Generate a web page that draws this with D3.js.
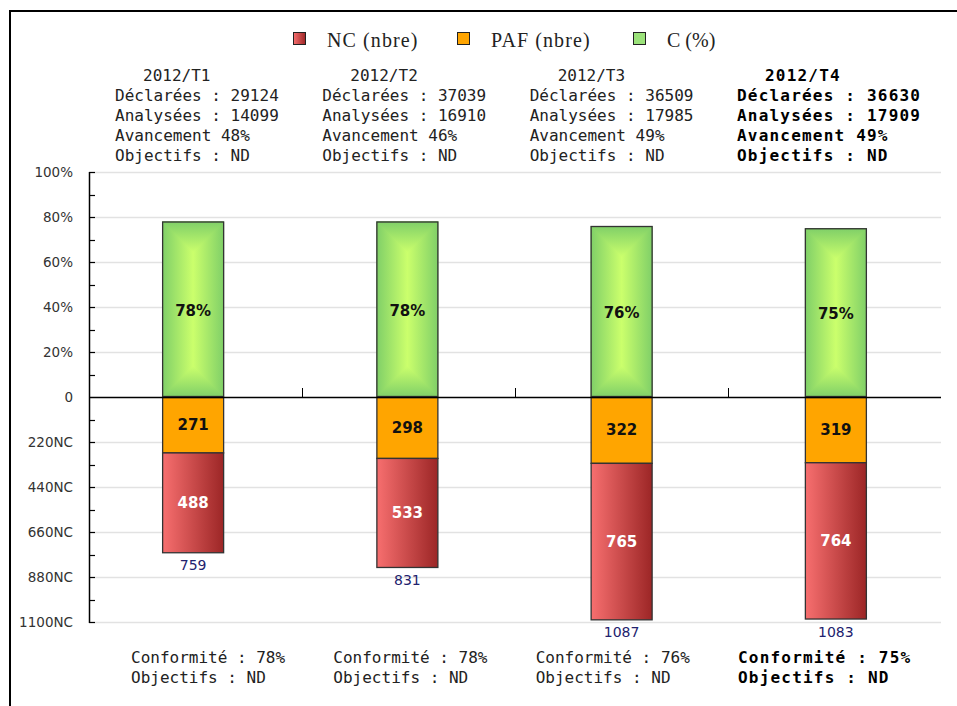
<!DOCTYPE html>
<html>
<head>
<meta charset="utf-8">
<script src="https://cdn.jsdelivr.net/npm/d3@7"></script>
<style>
  html, body { margin: 0; padding: 0; background: #fff; }
  svg { display: block; }
</style>
</head>
<body>
<div id="chart"></div>
<script>
// ---------------- DATA ----------------
const categories = ["2012/T1", "2012/T2", "2012/T3", "2012/T4"];
const ncValues   = [488, 533, 765, 764];     // NC (nbre)
const pafValues  = [271, 298, 322, 319];     // PAF (nbre)
const cValues    = [78, 78, 76, 75];         // C (%)
const declarees  = [29124, 37039, 36509, 36630];
const analysees  = [14099, 16910, 17985, 17909];
const avancement = [48, 46, 49, 49];
const objectifs  = ["ND", "ND", "ND", "ND"];
const conformite = [78, 78, 76, 75];
const highlighted = [false, false, false, true];
const legendLabels = ["NC (nbre)", "PAF (nbre)", "C (%)"];
const pctTicks = [20, 40, 60, 80, 100];
const ncTicks  = [220, 440, 660, 880, 1100];

// ---------------- LAYOUT ----------------
const W = 957, H = 706;
const svg = d3.select("#chart").append("svg").attr("width", W).attr("height", H);
const defs = svg.append("defs");

const plotL = 89, plotR = 941, zeroY = 397, topY = 172, botY = 622;
const x = d3.scaleBand().domain(categories).range([plotL, plotR]).paddingInner(0).paddingOuter(0);
const xBar = d3.scaleBand().domain(categories).range([plotL - 3, plotR + 2]);
const yPct = d3.scaleLinear().domain([0, 100]).range([zeroY, topY]);
const yNc  = d3.scaleLinear().domain([0, 1100]).range([zeroY, botY]);
const barW = 62;

// gradients
function linGrad(id, x1, y1, x2, y2, stops) {
  const g = defs.append("linearGradient").attr("id", id)
    .attr("x1", x1).attr("y1", y1).attr("x2", x2).attr("y2", y2);
  stops.forEach(s => g.append("stop").attr("offset", s[0]).attr("stop-color", s[1]));
}
const gEdge = "#7fcf68", gMid = "#cbff6c";
linGrad("gH", "0", "0", "1", "0", [["0", gEdge], ["0.5", gMid], ["1", gEdge]]);
linGrad("gTop", "0", "0", "0", "1", [["0", gEdge], ["1", gMid]]);
linGrad("gBot", "0", "1", "0", "0", [["0", gEdge], ["1", gMid]]);
linGrad("rH", "0", "0", "1", "0", [["0", "#f76f6f"], ["1", "#9c2626"]]);

// border lines
svg.append("rect").attr("x", 9).attr("y", 10).attr("width", W - 9).attr("height", 2).attr("fill", "#000");
svg.append("rect").attr("x", 9).attr("y", 10).attr("width", 2).attr("height", H - 10).attr("fill", "#000");

// ---------------- LEGEND ----------------
const legendX = [293, 457, 633];
const legendFill = ["url(#rH)", "#ffa500", "#9be27a"];
const legendSpacing = [1.1, 1.1, 0];
legendLabels.forEach((lab, i) => {
  svg.append("rect").attr("x", legendX[i] + 0.5).attr("y", 32.5).attr("width", 12).attr("height", 12)
    .attr("fill", legendFill[i]).attr("stroke", "#222").attr("stroke-width", 1);
  svg.append("text").attr("x", legendX[i] + 34).attr("y", 47)
    .attr("font-family", "Liberation Serif, serif").attr("font-size", 20)
    .attr("letter-spacing", legendSpacing[i])
    .attr("fill", "#222").text(lab);
});

// ---------------- GRID & AXIS ----------------
const grid = svg.append("g");
pctTicks.forEach(t => grid.append("line").attr("x1", plotL).attr("x2", plotR)
  .attr("y1", Math.round(yPct(t)) + 0.5).attr("y2", Math.round(yPct(t)) + 0.5)
  .attr("stroke", "#e2e2e2").attr("stroke-width", 1.5));
ncTicks.forEach(t => grid.append("line").attr("x1", plotL).attr("x2", plotR)
  .attr("y1", Math.round(yNc(t)) + 0.5).attr("y2", Math.round(yNc(t)) + 0.5)
  .attr("stroke", "#e2e2e2").attr("stroke-width", 1.5));

// category separator ticks on the zero line
categories.slice(1).forEach(c => svg.append("line")
  .attr("x1", Math.round(x(c)) + 0.5).attr("x2", Math.round(x(c)) + 0.5)
  .attr("y1", zeroY - 9).attr("y2", zeroY).attr("stroke", "#000").attr("stroke-width", 1));

// y axes (ticks inside, labels outside)
const labelFont = "DejaVu Sans, Verdana, sans-serif";
const axPct = d3.axisLeft(yPct).tickValues(pctTicks.concat([0])).tickSize(0)
  .tickFormat(d => d === 0 ? "0" : d + "%");
const axNc = d3.axisLeft(yNc).tickValues(ncTicks).tickSize(0).tickFormat(d => d + "NC");
[[axPct, yPct], [axNc, yNc]].forEach(([ax]) => {
  const g = svg.append("g").attr("transform", `translate(${plotL},0)`).call(ax);
  g.select(".domain").remove();
  g.selectAll("text").attr("x", -16).attr("dy", "0.35em")
    .attr("font-family", labelFont).attr("font-size", 13.5).attr("fill", "#333");
});
// axis line
svg.append("line").attr("x1", plotL + 0.5).attr("x2", plotL + 0.5).attr("y1", topY).attr("y2", botY + 1)
  .attr("stroke", "#000").attr("stroke-width", 1.5);
// major & minor tick marks (inward)
const minorPct = d3.range(10, 101, 10);
const minorNc = d3.range(110, 1101, 110);
minorPct.forEach(t => svg.append("line").attr("x1", plotL).attr("x2", plotL + 6)
  .attr("y1", Math.round(yPct(t)) + 0.5).attr("y2", Math.round(yPct(t)) + 0.5).attr("stroke", "#000").attr("stroke-width", 1.2));
minorNc.forEach(t => svg.append("line").attr("x1", plotL).attr("x2", plotL + 6)
  .attr("y1", Math.round(yNc(t)) + 0.5).attr("y2", Math.round(yNc(t)) + 0.5).attr("stroke", "#000").attr("stroke-width", 1.2));

// ---------------- BARS ----------------
const bars = svg.append("g");
categories.forEach((c, i) => {
  const cx = xBar(c) + xBar.bandwidth() / 2;
  const x0 = cx - barW / 2, x1 = cx + barW / 2;
  // C (%) green, pyramid bevel
  const yTop = yPct(cValues[i]);
  const h = zeroY - yTop;
  const bev = Math.min(barW / 2, h / 2);
  bars.append("rect").attr("x", x0).attr("y", yTop).attr("width", barW).attr("height", h).attr("fill", "url(#gH)");
  bars.append("polygon").attr("points", `${x0},${yTop} ${x1},${yTop} ${cx},${yTop + bev}`)
    .attr("fill", "url(#gTop)");
  bars.append("polygon").attr("points", `${x0},${zeroY} ${x1},${zeroY} ${cx},${zeroY - bev}`)
    .attr("fill", "url(#gBot)");
  bars.append("rect").attr("x", x0 + 0.5).attr("y", yTop + 0.5).attr("width", barW - 1).attr("height", h - 1)
    .attr("fill", "none").attr("stroke", "#333").attr("stroke-width", 1.3);
  bars.append("text").attr("x", cx).attr("y", (yTop + zeroY) / 2 + 1).attr("dy", "0.36em")
    .attr("text-anchor", "middle").attr("font-family", labelFont).attr("font-weight", "bold")
    .attr("font-size", 15).attr("fill", "#111").text(cValues[i] + "%");

  // PAF orange
  const yP = yNc(pafValues[i]);
  bars.append("rect").attr("x", x0 + 0.5).attr("y", zeroY + 0.5).attr("width", barW - 1).attr("height", yP - zeroY)
    .attr("fill", "#ffa500").attr("stroke", "#333").attr("stroke-width", 1.3);
  bars.append("text").attr("x", cx).attr("y", (zeroY + yP) / 2).attr("dy", "0.36em")
    .attr("text-anchor", "middle").attr("font-family", labelFont).attr("font-weight", "bold")
    .attr("font-size", 15).attr("fill", "#111").text(pafValues[i]);

  // NC red
  const total = pafValues[i] + ncValues[i];
  const yN = yNc(total);
  bars.append("rect").attr("x", x0 + 0.5).attr("y", yP + 0.5).attr("width", barW - 1).attr("height", yN - yP)
    .attr("fill", "url(#rH)").attr("stroke", "#333").attr("stroke-width", 1.3);
  bars.append("text").attr("x", cx).attr("y", (yP + yN) / 2).attr("dy", "0.36em")
    .attr("text-anchor", "middle").attr("font-family", labelFont).attr("font-weight", "bold")
    .attr("font-size", 15).attr("fill", "#fff").text(ncValues[i]);

  // total
  bars.append("text").attr("x", cx).attr("y", yN + 13).attr("dy", "0.36em")
    .attr("text-anchor", "middle").attr("font-family", labelFont)
    .attr("font-size", 14).attr("fill", "#22226e").text(total);
});

// zero line (on top)
svg.append("line").attr("x1", plotL).attr("x2", plotR).attr("y1", zeroY + 0.5).attr("y2", zeroY + 0.5)
  .attr("stroke", "#000").attr("stroke-width", 1.3);

// ---------------- INFO TEXT BLOCKS ----------------
const mono = "DejaVu Sans Mono, Liberation Mono, monospace";
const topBlockX = d3.scaleLinear().domain([0, 3]).range([115, 737]);
const botBlockX = d3.scaleLinear().domain([0, 3]).range([131, 738]);
categories.forEach((c, i) => {
  const bold = highlighted[i];
  const g = svg.append("g").attr("font-family", mono).attr("font-size", 16)
    .attr("fill", bold ? "#000" : "#222")
    .attr("font-weight", bold ? "bold" : "normal")
    .attr("letter-spacing", bold ? 1.2 : 0);
  const lx = topBlockX(i);
  g.append("text").attr("x", lx + 28).attr("y", 81).text(c);
  [`Déclarées : ${declarees[i]}`, `Analysées : ${analysees[i]}`,
   `Avancement ${avancement[i]}%`, `Objectifs : ${objectifs[i]}`]
    .forEach((t, k) => g.append("text").attr("x", lx).attr("y", 101 + k * 20).text(t));
  const bx = botBlockX(i);
  g.append("text").attr("x", bx).attr("y", 663).text(`Conformité : ${conformite[i]}%`);
  g.append("text").attr("x", bx).attr("y", 683).text(`Objectifs : ${objectifs[i]}`);
});
</script>
</body>
</html>
